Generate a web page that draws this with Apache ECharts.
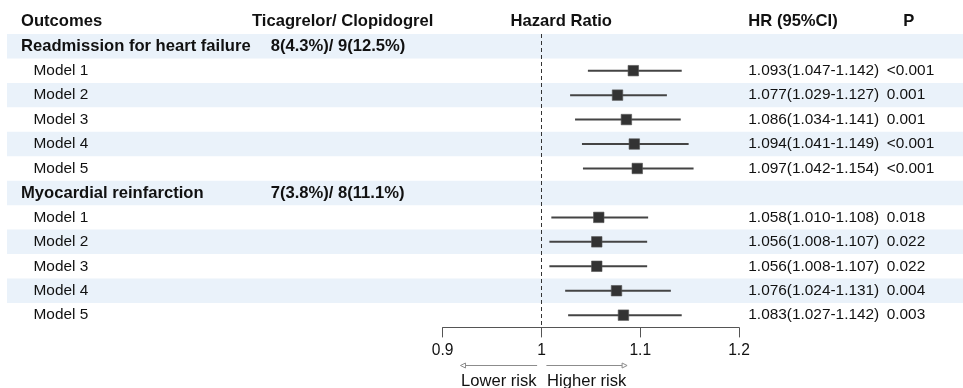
<!DOCTYPE html>
<html>
<head>
<meta charset="utf-8">
<script src="https://cdn.jsdelivr.net/npm/echarts@6/dist/echarts.min.js"></script>
<style>
  html, body { margin: 0; padding: 0; background: #ffffff; }
  #chart { width: 963px; height: 388px; }
</style>
</head>
<body>
<div id="chart"></div>
<script>
// ---- Table content ----
const headers = ['Outcomes', 'Ticagrelor/ Clopidogrel', 'Hazard Ratio', 'HR (95%CI)', 'P'];
const outcomes = ['Readmission for heart failure', 'Myocardial reinfarction'];
const eventCounts = ['8(4.3%)/ 9(12.5%)', '7(3.8%)/ 8(11.1%)'];
const models = ['Model 1', 'Model 2', 'Model 3', 'Model 4', 'Model 5'];

// Readmission for heart failure
const hrReadmission = [1.093, 1.077, 1.086, 1.094, 1.097];
const lowReadmission = [1.047, 1.029, 1.034, 1.041, 1.042];
const highReadmission = [1.142, 1.127, 1.141, 1.149, 1.154];
const pReadmission = ['<0.001', '0.001', '0.001', '<0.001', '<0.001'];

// Myocardial reinfarction
const hrReinfarction = [1.058, 1.056, 1.056, 1.076, 1.083];
const lowReinfarction = [1.010, 1.008, 1.008, 1.024, 1.027];
const highReinfarction = [1.108, 1.107, 1.107, 1.131, 1.142];
const pReinfarction = ['0.018', '0.022', '0.022', '0.004', '0.003'];

// Hazard ratio axis
const axisMin = 0.9, axisMax = 1.2, axisStep = 0.1;
const referenceHR = 1;
const riskLabels = ['Lower risk', 'Higher risk'];

// ---- Assemble rows ----
const hrSets = [hrReadmission, hrReinfarction];
const lowSets = [lowReadmission, lowReinfarction];
const highSets = [highReadmission, highReinfarction];
const pSets = [pReadmission, pReinfarction];

const rows = [];
outcomes.forEach((name, g) => {
  rows.push({ kind: 'outcome', name: name, count: eventCounts[g] });
  models.forEach((m, k) => {
    rows.push({
      kind: 'model', name: m,
      hr: hrSets[g][k], low: lowSets[g][k], high: highSets[g][k], p: pSets[g][k]
    });
  });
});
const rowIds = rows.map((r, i) => 'r' + i);
const forestData = [];
rows.forEach((r, i) => { if (r.kind === 'model') forestData.push([i, r.hr, r.low, r.high]); });

// ---- Layout ----
const FONT = '"Liberation Sans", Arial, sans-serif';
const FS = 15.4;       // regular table text
const FS_BOLD = 16.6;  // headers and outcome names
const FS_NOTE = 16.6;  // risk direction labels
const TEXT = '#111111';
const BAND = '#EAF2FA';
const ROW_TOP = 34;
const ROW_H = 24.45;
const TABLE_H = ROW_H * rows.length;
const COL = { outcome: 21, model: 33.5, count: 270.7, countHead: 252, hrHead: 510.5, ci: 748.3, pHead: 903.3, p: 886.7 };

function txt(x, y, s, bold, align, size) {
  return {
    type: 'text',
    style: {
      x: x, y: y, text: s, fill: TEXT,
      font: (bold ? 'bold ' : '') + (size || (bold ? FS_BOLD : FS)) + 'px ' + FONT,
      textAlign: align || 'left', textVerticalAlign: 'middle'
    }
  };
}

const chart = echarts.init(document.getElementById('chart'), null, { renderer: 'canvas' });

chart.setOption({
  animation: false,
  backgroundColor: '#ffffff',
  grid: [
    { left: 7, right: 0, top: ROW_TOP, height: TABLE_H },
    { left: 442.7, width: 296.3, top: ROW_TOP, height: TABLE_H }
  ],
  xAxis: [
    { gridIndex: 0, type: 'value', min: 0, max: 1, show: false },
    {
      gridIndex: 1, type: 'value', min: axisMin, max: axisMax, interval: axisStep,
      position: 'bottom',
      splitLine: { show: false },
      axisLine: { show: true, lineStyle: { color: '#555555', width: 1 } },
      axisTick: { show: true, length: 10, lineStyle: { color: '#555555', width: 1 } },
      axisLabel: { color: TEXT, fontSize: 15.6, fontFamily: FONT, margin: 15 }
    }
  ],
  yAxis: [
    { gridIndex: 0, type: 'category', data: rowIds, inverse: true, show: false },
    { gridIndex: 1, type: 'category', data: rowIds, inverse: true, show: false }
  ],
  series: [
    // Alternating row shading
    {
      type: 'bar', xAxisIndex: 0, yAxisIndex: 0, silent: true,
      barWidth: '100%',
      itemStyle: { color: BAND },
      data: rows.map((r, i) => (i % 2 === 0 ? 1 : '-')),
      z: 0
    },
    // Table text columns
    {
      type: 'custom', xAxisIndex: 0, yAxisIndex: 0, silent: true, z: 5,
      data: rows.map((r, i) => [0, i]),
      renderItem: function (params, api) {
        const i = api.value(1);
        const r = rows[i];
        const y = api.coord([0, i])[1];
        const children = [];
        if (i === 0) {
          const yh = y - ROW_H;
          children.push(txt(COL.outcome, yh, headers[0], true));
          children.push(txt(COL.countHead, yh, headers[1], true));
          children.push(txt(COL.hrHead, yh, headers[2], true));
          children.push(txt(COL.ci, yh, headers[3], true));
          children.push(txt(COL.pHead, yh, headers[4], true));
        }
        if (r.kind === 'outcome') {
          children.push(txt(COL.outcome, y, r.name, true));
          children.push(txt(COL.count, y, r.count, true));
        } else {
          children.push(txt(COL.model, y, r.name, false));
          children.push(txt(COL.ci, y,
            r.hr.toFixed(3) + '(' + r.low.toFixed(3) + '-' + r.high.toFixed(3) + ')', false));
          children.push(txt(COL.p, y, r.p, false));
        }
        return { type: 'group', children: children };
      }
    },
    // Reference line at HR = 1
    {
      type: 'custom', xAxisIndex: 1, yAxisIndex: 1, silent: true, z: 6,
      data: [[referenceHR, 0]],
      renderItem: function (params, api) {
        const x = Math.round(api.coord([api.value(0), 0])[0]) + 0.5;
        const cs = params.coordSys;
        return {
          type: 'line',
          shape: { x1: x, y1: cs.y, x2: x, y2: cs.y + cs.height },
          style: { stroke: '#333333', lineWidth: 1, lineDash: [4, 3] }
        };
      }
    },
    // Confidence intervals and point estimates
    {
      type: 'custom', xAxisIndex: 1, yAxisIndex: 1, silent: true, z: 10,
      encode: { x: [1, 2, 3], y: 0 },
      data: forestData,
      renderItem: function (params, api) {
        const row = api.value(0);
        const c = api.coord([api.value(1), row]);
        const lo = api.coord([api.value(2), row]);
        const hi = api.coord([api.value(3), row]);
        const s = 10.5;
        return {
          type: 'group',
          children: [
            {
              type: 'line',
              shape: { x1: lo[0], y1: c[1], x2: hi[0], y2: c[1] },
              style: { stroke: '#444444', lineWidth: 2 }
            },
            {
              type: 'rect',
              shape: { x: c[0] - s / 2, y: c[1] - s / 2, width: s, height: s },
              style: { fill: '#333333', stroke: '#555555', lineWidth: 0.6 }
            }
          ]
        };
      }
    },
    // Direction arrows under the axis
    {
      type: 'custom', xAxisIndex: 1, yAxisIndex: 1, silent: true, z: 6,
      data: [[referenceHR, rows.length - 1]],
      renderItem: function (params, api) {
        const cs = params.coordSys;
        const base = cs.y + cs.height;
        const ya = Math.round(base + 38) + 0.5;
        const yt = base + 54;
        const l1 = api.coord([0.918, 0])[0], l2 = api.coord([0.9956, 0])[0];
        const r1 = api.coord([1.005, 0])[0], r2 = api.coord([1.0867, 0])[0];
        const st = { stroke: '#8c8c8c', lineWidth: 1, fill: '#ffffff' };
        return {
          type: 'group',
          children: [
            { type: 'line', shape: { x1: l1 + 5, y1: ya, x2: l2, y2: ya }, style: st },
            { type: 'polygon', shape: { points: [[l1 + 5, ya - 2.5], [l1, ya], [l1 + 5, ya + 2.5]] }, style: st },
            { type: 'line', shape: { x1: r1, y1: ya, x2: r2 - 5, y2: ya }, style: st },
            { type: 'polygon', shape: { points: [[r2 - 5, ya - 2.5], [r2, ya], [r2 - 5, ya + 2.5]] }, style: st },
            txt((l1 + l2) / 2, yt, riskLabels[0], false, 'center', FS_NOTE),
            txt((r1 + r2) / 2, yt, riskLabels[1], false, 'center', FS_NOTE)
          ]
        };
      }
    }
  ]
});
</script>
</body>
</html>
